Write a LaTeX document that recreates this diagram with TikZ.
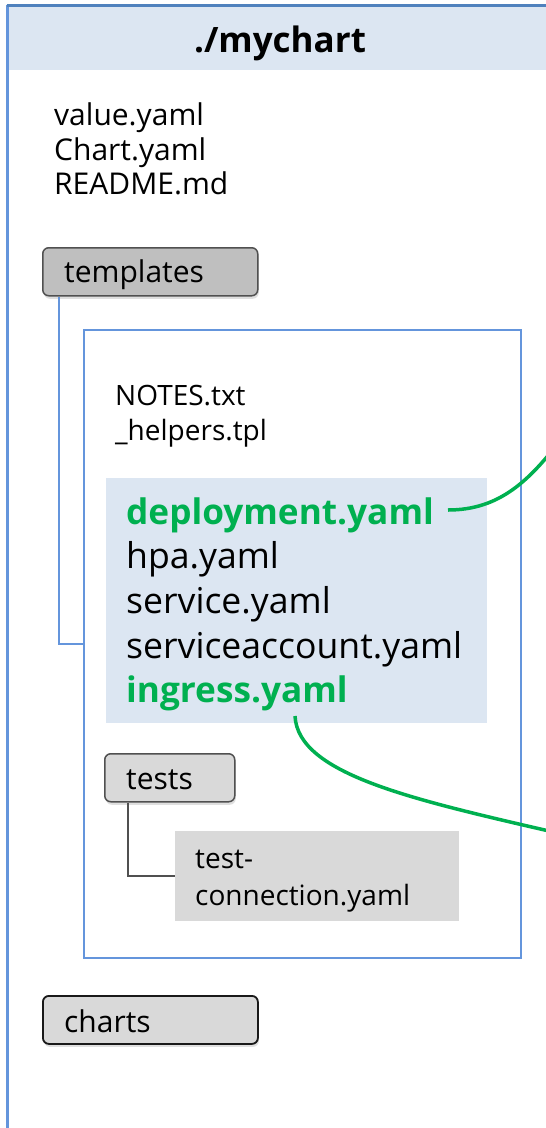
\documentclass[tikz,border=0pt]{standalone}
\usepackage{fontspec}
\setmainfont{Open Sans}
\usetikzlibrary{shadows}
\definecolor{hdrfill}{RGB}{220,230,242}
\definecolor{hdrline}{RGB}{79,129,189}
\definecolor{frameblue}{RGB}{100,149,220}
\definecolor{hlfill}{RGB}{220,230,242}
\definecolor{grnx}{RGB}{0,176,80}
\definecolor{graydark}{RGB}{191,191,191}
\definecolor{graylight}{RGB}{217,217,217}
\definecolor{bordergray}{RGB}{80,80,80}
\tikzset{
  txt/.style={anchor=base west, inner sep=0pt, font=\fontsize{30}{34}\selectfont},
  smalltxt/.style={anchor=base west, inner sep=0pt, font=\fontsize{28}{34}\selectfont},
  bigtxt/.style={anchor=base west, inner sep=0pt, font=\fontsize{35.6}{40}\selectfont},
  greentxt/.style={bigtxt, text=grnx, font=\fontsize{35.2}{40}\selectfont\bfseries},
  folder/.style={draw=bordergray, line width=1.5pt, rounded corners=6pt, anchor=north west,
     inner sep=0pt, drop shadow={opacity=0.25, shadow xshift=1pt, shadow yshift=-3pt}},
  bluelink/.style={draw=frameblue, line width=1.7pt},
  graylink/.style={draw=bordergray, line width=1.5pt},
  greenlink/.style={draw=grnx, line width=3.5pt},
}
\begin{document}
\begin{tikzpicture}[x=1pt,y=-1pt]
\useasboundingbox (0,0) rectangle (546,1128);
% outer frame
\fill[hdrfill] (8,6) rectangle (546,70);
\draw[frameblue, line width=2.2pt] (7.5,5) -- (7.5,1130);
\draw[hdrline, line width=2.8pt] (6.5,5.5) -- (548,5.5);
\node[anchor=base, inner sep=0pt, font=\fontsize{35}{40}\selectfont\bfseries] (title) at (280,52) {./mychart};
% root files
\node[txt] (value) at (54,125) {value.yaml};
\node[txt] (chartf) at (54,160) {Chart.yaml};
\node[txt] (readme) at (54,194) {README.md};
% templates folder
\node[folder, fill=graydark, minimum width=215pt, minimum height=48pt] (templates) at (42,247) {};
\node[txt] (templatesl) at (64,282) {templates};
% inner box
\node[draw=frameblue, line width=1.7pt, anchor=north west, inner sep=0pt,
      minimum width=437pt, minimum height=628pt] (inner) at (83,329) {};
\draw[bluelink] ([xshift=17pt]templates.south west) |- (inner.west);
\node[smalltxt] (notes) at (115,405) {NOTES.txt};
\node[smalltxt] (helpers) at (115,440) {\_helpers.tpl};
% highlight block
\node[fill=hlfill, anchor=north west, inner sep=0pt, minimum width=381pt, minimum height=245pt] (hl) at (106,478) {};
\node[greentxt] (deploy) at (126,524) {deployment.yaml};
\node[bigtxt] (hpa) at (126,568) {hpa.yaml};
\node[bigtxt] (service) at (126,613) {service.yaml};
\node[bigtxt] (sa) at (126,658) {serviceaccount.yaml};
\node[greentxt] (ingress) at (126,702) {ingress.yaml};
% tests
\node[folder, fill=graylight, minimum width=130pt, minimum height=48pt] (tests) at (104,753) {};
\node[txt] (testsl) at (126,789) {tests};
\node[fill=graylight, anchor=north west, inner sep=0pt, minimum width=284pt, minimum height=90pt] (tc) at (175,831) {};
\node[smalltxt] (tc1) at (195,868) {test-};
\node[smalltxt] (tc2) at (195,905) {connection.yaml};
\draw[graylink] ([xshift=24pt]tests.south west) |- (tc.west);
% charts
\node[folder, draw=black!90, line width=1.8pt, fill=graylight, minimum width=215pt, minimum height=48pt] (charts) at (42,995) {};
\node[txt] (chartsl) at (64,1032) {charts};
% green links
\coordinate (outA) at (562,438);
\coordinate (outB) at (562,834);
\draw[greenlink] ([xshift=14pt,yshift=14pt]deploy.base east) .. controls (500,510) and (530,480) .. (outA);
\draw[greenlink] ([xshift=169pt,yshift=-14pt]ingress.base west) .. controls (298,775) and (415,800) .. (outB);
\end{tikzpicture}
\end{document}
